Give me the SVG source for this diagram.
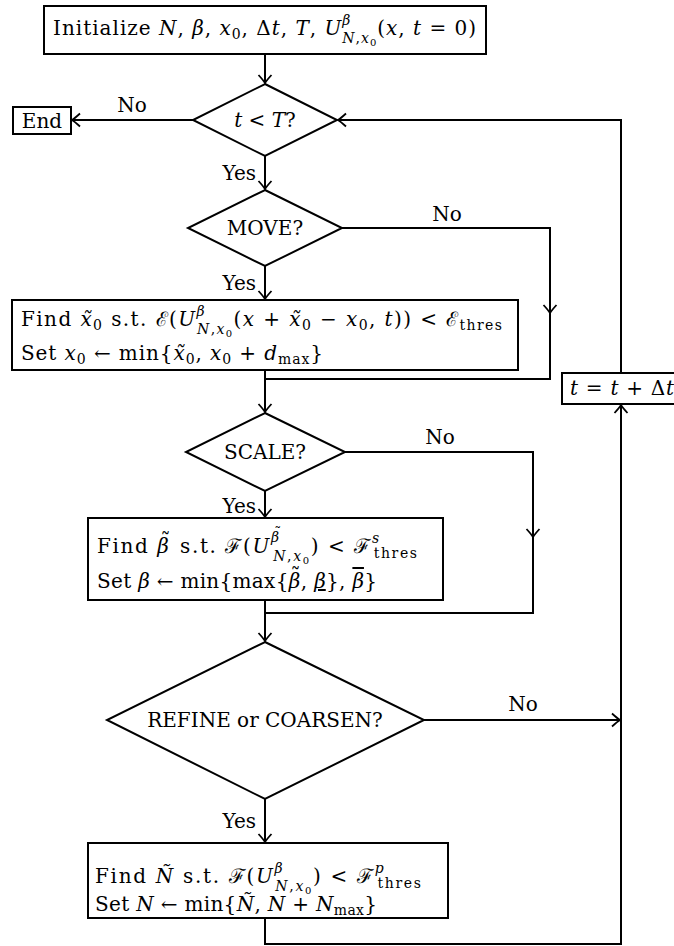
<svg xmlns="http://www.w3.org/2000/svg" width="674" height="946" viewBox="0 0 674 946">
<defs>
<style>
.t{font-family:"DejaVu Serif","Liberation Serif",serif;font-size:20px;fill:#000}
.i{font-style:italic}
.s{font-size:14px}
.ss{font-size:10px}
.box{fill:#fff;stroke:#000;stroke-width:2}
.ln{fill:none;stroke:#000;stroke-width:2}
</style>
<marker id="arr" markerUnits="userSpaceOnUse" markerWidth="20" markerHeight="20" viewBox="-10 -10 20 20" refX="0" refY="0" orient="auto">
<path d="M-8,-6.5 Q-2.5,-1.5 0,0 Q-2.5,1.5 -8,6.5" fill="none" stroke="#000" stroke-width="1.8"/>
</marker>
</defs>
<rect width="674" height="946" fill="#fff"/>

<g id="connectors">
<path class="ln" d="M265,54 V83" marker-end="url(#arr)"/>
<path class="ln" d="M193,120 H72" marker-end="url(#arr)"/>
<path class="ln" d="M265,156 V189" marker-end="url(#arr)"/>
<path class="ln" d="M342,228 H550 V313" marker-end="url(#arr)"/>
<path class="ln" d="M550,313 V379 H265"/>
<path class="ln" d="M265,266 V299" marker-end="url(#arr)"/>
<path class="ln" d="M265,370 V412" marker-end="url(#arr)"/>
<path class="ln" d="M345,452 H533 V537" marker-end="url(#arr)"/>
<path class="ln" d="M533,537 V613 H265"/>
<path class="ln" d="M265,491 V517" marker-end="url(#arr)"/>
<path class="ln" d="M265,600 V641" marker-end="url(#arr)"/>
<path class="ln" d="M424,720 H620" marker-end="url(#arr)"/>
<path class="ln" d="M265,799 V842" marker-end="url(#arr)"/>
<path class="ln" d="M265,918 V944 H621 V405" marker-end="url(#arr)"/>
<path class="ln" d="M621,373 V120 H338" marker-end="url(#arr)"/>
</g>

<g id="labels" class="t">
<text x="132" y="112" text-anchor="middle">No</text>
<text x="256" y="180" text-anchor="end">Yes</text>
<text x="447" y="221" text-anchor="middle">No</text>
<text x="256" y="290" text-anchor="end">Yes</text>
<text x="440" y="444" text-anchor="middle">No</text>
<text x="256" y="513" text-anchor="end">Yes</text>
<text x="523" y="711" text-anchor="middle">No</text>
<text x="256" y="828" text-anchor="end">Yes</text>
</g>

<g id="init" class="t">
<rect class="box" x="44" y="6" width="442" height="48"/>
<text x="53" y="35" textLength="423">Initialize <tspan class="i">N</tspan>, <tspan class="i">β</tspan>, <tspan class="i">x</tspan><tspan class="s" dy="4">0</tspan><tspan dy="-4">, Δ</tspan><tspan class="i">t</tspan>, <tspan class="i">T</tspan>, <tspan class="i">U</tspan><tspan class="s i" dy="-10">β</tspan><tspan class="s" dx="-9" dy="18"><tspan class="i">N</tspan>,<tspan class="i">x</tspan></tspan><tspan class="ss" dy="3">0</tspan><tspan dy="-11">(</tspan><tspan class="i">x</tspan>, <tspan class="i">t</tspan> = 0)</text>
</g>

<g id="check-t" class="t">
<path class="box" d="M265,84 L337,120 L265,156 L193,120 Z"/>
<text x="265" y="127" text-anchor="middle"><tspan class="i">t</tspan> &lt; <tspan class="i">T</tspan>?</text>
</g>

<g id="end" class="t">
<rect class="box" x="13" y="107" width="58" height="27"/>
<text x="42" y="128" text-anchor="middle">End</text>
</g>

<g id="move" class="t">
<path class="box" d="M265,190 L342,228 L265,266 L188,228 Z"/>
<text x="265" y="235" text-anchor="middle">MOVE?</text>
</g>

<g id="move-box" class="t">
<rect class="box" x="12" y="300" width="506" height="70"/>
<text x="21" y="326" textLength="481">Find <tspan class="i">x̃</tspan><tspan class="s" dy="4">0</tspan><tspan dy="-4"> s.t. ℰ(</tspan><tspan class="i">U</tspan><tspan class="s i" dy="-10">β</tspan><tspan class="s" dx="-9" dy="18"><tspan class="i">N</tspan>,<tspan class="i">x</tspan></tspan><tspan class="ss" dy="3">0</tspan><tspan dy="-11">(</tspan><tspan class="i">x</tspan> + <tspan class="i">x̃</tspan><tspan class="s" dy="4">0</tspan><tspan dy="-4"> − </tspan><tspan class="i">x</tspan><tspan class="s" dy="4">0</tspan><tspan dy="-4">, </tspan><tspan class="i">t</tspan>)) &lt; ℰ<tspan class="s" dy="4">thres</tspan></text>
<text x="21" y="360" textLength="302">Set <tspan class="i">x</tspan><tspan class="s" dy="4">0</tspan><tspan dy="-4"> ← min{</tspan><tspan class="i">x̃</tspan><tspan class="s" dy="4">0</tspan><tspan dy="-4">, </tspan><tspan class="i">x</tspan><tspan class="s" dy="4">0</tspan><tspan dy="-4"> + </tspan><tspan class="i">d</tspan><tspan class="s" dy="4">max</tspan><tspan dy="-4">}</tspan></text>
</g>

<g id="scale" class="t">
<path class="box" d="M265,413 L345,452 L265,491 L186,452 Z"/>
<text x="265" y="459" text-anchor="middle">SCALE?</text>
</g>

<g id="scale-box" class="t">
<rect class="box" x="88" y="518" width="355" height="82"/>
<text x="97" y="553" textLength="320">Find <tspan class="i">β</tspan><tspan dx="-10" dy="-6">˜</tspan><tspan dy="6"> s.t. ℱ(</tspan><tspan class="i">U</tspan><tspan class="s i" dy="-11">β</tspan><tspan class="s" dx="-6.5" dy="-4">˜</tspan><tspan class="s" dx="-9.5" dy="23"><tspan class="i">N</tspan>,<tspan class="i">x</tspan></tspan><tspan class="ss" dy="3">0</tspan><tspan dy="-11">) &lt; ℱ</tspan><tspan class="s i" dy="-10">s</tspan><tspan class="s" dx="-7" dy="15">thres</tspan></text>
<text x="97" y="588" textLength="280">Set <tspan class="i">β</tspan> ← min{max{<tspan class="i">β</tspan><tspan dx="-10" dy="-6">˜</tspan><tspan dy="6">, </tspan><tspan class="i" text-decoration="underline">β</tspan>}, <tspan class="i" text-decoration="overline">β</tspan>}</text>
</g>

<g id="refine" class="t">
<path class="box" d="M265,642 L424,720 L265,799 L107,720 Z"/>
<text x="265" y="727" text-anchor="middle">REFINE or COARSEN?</text>
</g>

<g id="refine-box" class="t">
<rect class="box" x="88" y="843" width="360" height="75"/>
<text x="95" y="883" textLength="326">Find <tspan class="i">Ñ</tspan> s.t. ℱ(<tspan class="i">U</tspan><tspan class="s i" dy="-10">β</tspan><tspan class="s" dx="-9" dy="18"><tspan class="i">N</tspan>,<tspan class="i">x</tspan></tspan><tspan class="ss" dy="3">0</tspan><tspan dy="-11">) &lt; ℱ</tspan><tspan class="s i" dy="-10">p</tspan><tspan class="s" dx="-8" dy="15">thres</tspan></text>
<text x="95" y="911" textLength="282">Set <tspan class="i">N</tspan> ← min{<tspan class="i">Ñ</tspan>, <tspan class="i">N</tspan> + <tspan class="i">N</tspan><tspan class="s" dy="4">max</tspan><tspan dy="-4">}</tspan></text>
</g>

<g id="step" class="t">
<rect class="box" x="562" y="373" width="124" height="31"/>
<text x="570" y="395" textLength="104"><tspan class="i">t</tspan> = <tspan class="i">t</tspan> + Δ<tspan class="i">t</tspan></text>
</g>
</svg>
